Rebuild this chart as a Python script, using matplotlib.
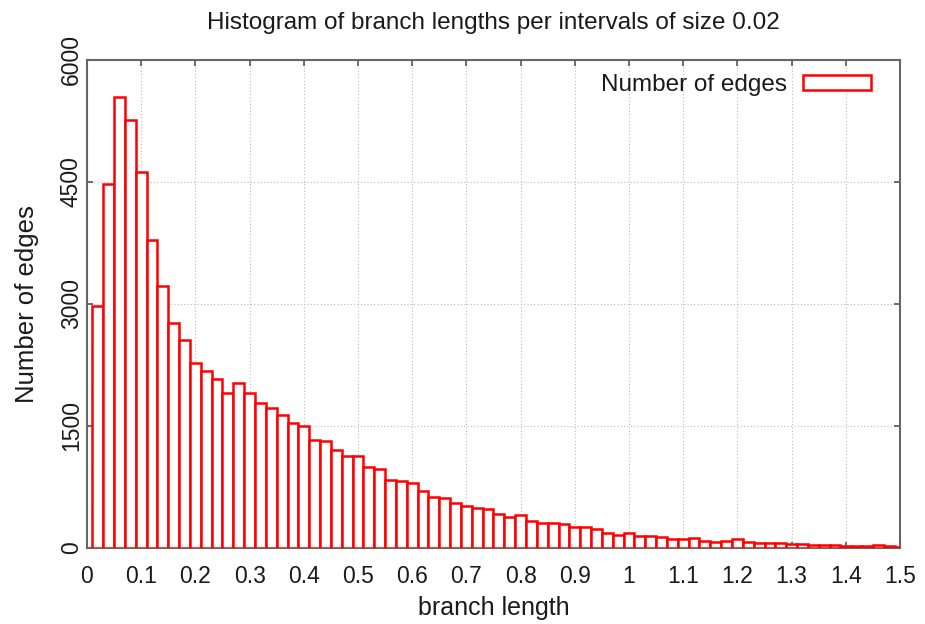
import numpy as np
import matplotlib
matplotlib.use("Agg")
import matplotlib.pyplot as plt
from matplotlib.patches import Patch

plt.rcParams['font.family'] = ['Liberation Sans', 'DejaVu Sans']

# bin centres (size 0.02) and counts
bins = np.round(np.arange(1, 76) * 0.02, 2)
counts = [2980, 4470, 5550, 5260, 4620, 3785, 3215, 2765, 2560, 2270,
          2175, 2075, 1900, 2025, 1910, 1785, 1715, 1635, 1540, 1500,
          1325, 1320, 1205, 1135, 1130, 1000, 965, 830, 825, 795,
          695, 620, 615, 550, 520, 495, 475, 420, 380, 405,
          335, 310, 300, 290, 262, 255, 238, 180, 160, 189,
          152, 140, 138, 112, 110, 119, 80, 78, 86, 107,
          70, 57, 65, 57, 49, 45, 41, 37, 33, 29,
          25, 25, 33, 25, 16]

xticks = [0, 0.1, 0.2, 0.3, 0.4, 0.5, 0.6, 0.7, 0.8, 0.9, 1, 1.1, 1.2, 1.3, 1.4, 1.5]
xticklabels = ['0', '0.1', '0.2', '0.3', '0.4', '0.5', '0.6', '0.7', '0.8', '0.9',
               '1', '1.1', '1.2', '1.3', '1.4', '1.5']
yticks = [0, 1500, 3000, 4500, 6000]

fig = plt.figure(figsize=(9.25, 6.24), dpi=100)
ax = fig.add_axes([0.094, 0.122, 0.879, 0.782])

ax.bar(bins, counts, width=0.02, align='center', facecolor='white',
       edgecolor='#ff0000', linewidth=1.8, zorder=3)

ax.set_xlim(0, 1.5)
ax.set_ylim(0, 6000)
ax.set_xticks(xticks)
ax.set_xticklabels(xticklabels)
ax.set_yticks(yticks)
ax.set_yticklabels([str(v) for v in yticks], rotation=90, va='center')
ax.tick_params(direction='in', length=4.5, width=1.2, color='#555555',
               top=True, right=True, labelsize=16.5, labelcolor='#1a1a1a')
ax.tick_params(axis='x', pad=12)
ax.tick_params(axis='y', pad=3)
ax.grid(True, color='#bbbbbb', linestyle=(0, (1, 2)), linewidth=0.8, zorder=0)
for s in ax.spines.values():
    s.set_color('#666666')
    s.set_linewidth(1.5)

ax.set_title('Histogram of branch lengths per intervals of size 0.02',
             fontsize=17.5, color='#1a1a1a', pad=22)
ax.set_xlabel('branch length', fontsize=18, color='#1a1a1a', labelpad=6)
ax.set_ylabel('Number of edges', fontsize=18.5, color='#1a1a1a', labelpad=15)

h = Patch(facecolor='white', edgecolor='#ff0000', linewidth=1.8)
ax.legend([h], ['Number of edges'], loc='upper right', bbox_to_anchor=(0.964, 0.971),
          frameon=False, markerfirst=False, fontsize=17.5, labelcolor='#1a1a1a',
          handlelength=2.8, handleheight=0.55, borderpad=0, borderaxespad=0,
          handletextpad=0.65)

fig.savefig('out.png', dpi=100)
